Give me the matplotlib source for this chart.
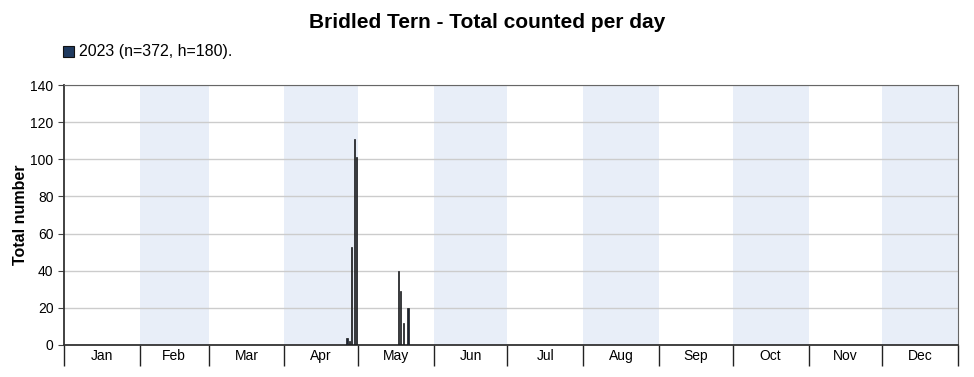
import numpy as np
import matplotlib.pyplot as plt

plt.rcParams["font.family"] = ["Liberation Sans", "DejaVu Sans"]

months = ["Jan", "Feb", "Mar", "Apr", "May", "Jun",
          "Jul", "Aug", "Sep", "Oct", "Nov", "Dec"]
month_days = [31, 28, 31, 30, 31, 30, 31, 31, 30, 31, 30, 31]

# day of year (0-based) and birds counted that day
days = [115, 116, 117, 118, 119, 136, 137, 138, 140]
counts = [4, 2, 53, 111, 101, 40, 29, 12, 20]

starts = np.concatenate([[0], np.cumsum(month_days)])
centers = (starts[:-1] + starts[1:]) / 2

fig = plt.figure(figsize=(9.74, 3.77), dpi=100)
ax = fig.add_axes([0.0657, 0.0849, 0.9179, 0.6896])

for i in range(1, 12, 2):
    ax.axvspan(starts[i], starts[i + 1], color="#e8eef8", lw=0, zorder=0)

ax.bar(np.array(days) + 0.5, counts, width=0.55, color="#1c2433",
       edgecolor="#1a1a1a", linewidth=0.5, zorder=3)

ax.set_xlim(0, 365)
ax.set_ylim(0, 140)
ax.set_yticks(range(0, 141, 20))
ax.yaxis.grid(True, color="#cccccc", linewidth=1, zorder=1)
ax.set_axisbelow(True)

ax.set_xticks(starts, minor=True)
ax.set_xticks(centers)
ax.set_xticklabels(months, fontsize=10)
ax.tick_params(axis="x", which="major", length=0, pad=3)
ax.tick_params(axis="x", which="minor", length=15, width=1, color="#222222")
ax.tick_params(axis="y", length=4, labelsize=10, color="#444444")

for side in ["top", "right"]:
    ax.spines[side].set_color("#666666")
for side in ["left", "bottom"]:
    ax.spines[side].set_color("#333333")
    ax.spines[side].set_linewidth(1.3)

ax.set_ylabel("Total number", fontsize=11.5, fontweight="bold", labelpad=2)

fig.text(0.5, 0.94, "Bridled Tern - Total counted per day", ha="center",
         va="center", fontsize=15, fontweight="bold")
fig.patches.append(plt.Rectangle((0.0647, 0.849), 0.0113, 0.03,
                                 transform=fig.transFigure, facecolor="#1f3a5f",
                                 edgecolor="#111111", linewidth=0.8))
fig.text(0.081, 0.864, "2023 (n=372, h=180).", ha="left", va="center",
         fontsize=11.5)

fig.savefig("out.png", dpi=100)
